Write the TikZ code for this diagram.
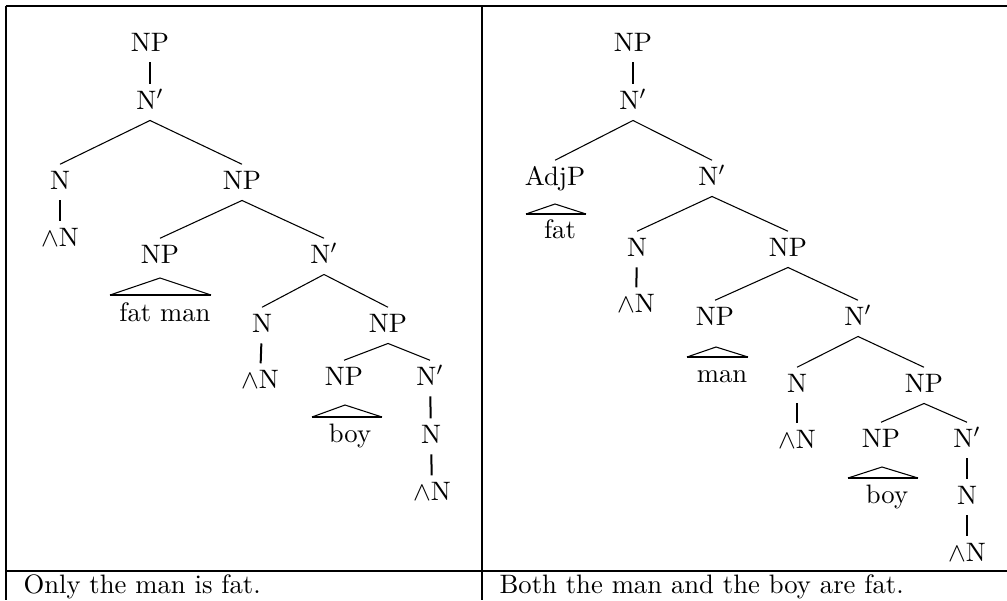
\documentclass[tikz,border=0pt]{standalone}
\usepackage{amsmath, amssymb}
\usepackage{tikz}
\usetikzlibrary{positioning}

\begin{document}
\begin{tikzpicture}[x=0.375pt, y=-0.375pt,
    main/.style = {inner xsep=0pt, inner ysep=2.25pt, text height=6.83pt, text depth=1.85pt, anchor=base},
    word/.style = {inner sep=0pt, anchor=base},
    branch/.style = {line width=0.4pt},
    unary/.style = {line width=0.75pt},
    roofbase/.style = {line width=0.75pt},
    frame/.style = {line width=0.75pt}]
    \useasboundingbox (0,0) rectangle (1007,600);

    % Frame
    \draw[frame] (5.5,5.5) -- (1007,5.5);
    \draw[frame] (5.5,571) -- (1007,571);
    \draw[frame] (5.5,5.5) -- (5.5,600);
    \draw[frame] (482,5.5) -- (482,600);

    % Captions
    \node[word, anchor=base west] (capL) at (23,593) {Only the man is fat.};
    \node[word, anchor=base west] (capR) at (499,593) {Both the man and the boy are fat.};

    % Nodes (left tree)
    \node[main] (lNP) at (150,51) {NP};
    \node[main] (lNb) at (150,109) {N$'$};
    \node[main] (lN1) at (60,189) {N};
    \node[main] (lAN1) at (60,246) {$\wedge$N};
    \node[main] (lNP2) at (242,189) {NP};
    \node[main] (lNP3) at (160,263) {NP};
    \node[main] (lNb2) at (324,263) {N$'$};
    \node[word] (lfatman) at (165,321) {fat man};
    \node[main] (lN2) at (262,332) {N};
    \node[main] (lAN2) at (260,388) {$\wedge$N};
    \node[main] (lNP4) at (388,332) {NP};
    \node[main] (lNP5) at (344,385) {NP};
    \node[main] (lNb3) at (430,385) {N$'$};
    \node[word] (lboy) at (350,442) {boy};
    \node[main] (lN3) at (431,443) {N};
    \node[main] (lAN3) at (432,500) {$\wedge$N};
    % roofs
    \coordinate (lr1T) at (160,278);
    \coordinate (lr1L) at (110,295);
    \coordinate (lr1R) at (211,295);
    \coordinate (lr2T) at (345,405);
    \coordinate (lr2L) at (312,417);
    \coordinate (lr2R) at (382,417);

    % Nodes (right tree)
    \node[main] (rNP) at (633,51) {NP};
    \node[main] (rNb1) at (633,109) {N$'$};
    \node[main] (rAdjP) at (555,185) {AdjP};
    \node[main] (rNb2) at (712,185) {N$'$};
    \node[word] (rfat) at (560,238) {fat};
    \node[main] (rN1) at (637,256) {N};
    \node[main] (rAN1) at (636,312) {$\wedge$N};
    \node[main] (rNP2) at (788,256) {NP};
    \node[main] (rNP3) at (715,325) {NP};
    \node[main] (rNb3) at (858,325) {N$'$};
    \node[word] (rman) at (722,382) {man};
    \node[main] (rN2) at (797,392) {N};
    \node[main] (rAN2) at (797,448) {$\wedge$N};
    \node[main] (rNP4) at (924,392) {NP};
    \node[main] (rNP5) at (881,447) {NP};
    \node[main] (rNb4) at (967,447) {N$'$};
    \node[word] (rboy) at (887,503) {boy};
    \node[main] (rN3) at (967,504) {N};
    \node[main] (rAN3) at (967,561) {$\wedge$N};
    % roofs
    \coordinate (rr1T) at (555,204);
    \coordinate (rr1L) at (526,214);
    \coordinate (rr1R) at (586,214);
    \coordinate (rr2T) at (716,347);
    \coordinate (rr2L) at (687,357);
    \coordinate (rr2R) at (748,357);
    \coordinate (rr3T) at (882,467);
    \coordinate (rr3L) at (848,478);
    \coordinate (rr3R) at (918,478);

    % Lines (left tree)
    \draw[unary] (lNP) -- (lNb);
    \draw[branch] (lNb.south) -- (lN1.north);
    \draw[branch] (lNb.south) -- (lNP2.north);
    \draw[unary] (lN1) -- (lAN1);
    \draw[branch] (lNP2.south) -- (lNP3.north);
    \draw[branch] (lNP2.south) -- (lNb2.north);
    \draw[branch] (lr1L) -- (lr1T) -- (lr1R);
    \draw[roofbase] (lr1L) -- (lr1R);
    \draw[branch] (lNb2.south) -- (lN2.north);
    \draw[branch] (lNb2.south) -- (lNP4.north);
    \draw[unary] (lN2) -- (lAN2);
    \draw[branch] (lNP4.south) -- (lNP5.north);
    \draw[branch] (lNP4.south) -- (lNb3.north);
    \draw[branch] (lr2L) -- (lr2T) -- (lr2R);
    \draw[roofbase] (lr2L) -- (lr2R);
    \draw[unary] (lNb3) -- (lN3);
    \draw[unary] (lN3) -- (lAN3);

    % Lines (right tree)
    \draw[unary] (rNP) -- (rNb1);
    \draw[branch] (rNb1.south) -- (rAdjP.north);
    \draw[branch] (rNb1.south) -- (rNb2.north);
    \draw[branch] (rr1L) -- (rr1T) -- (rr1R);
    \draw[roofbase] (rr1L) -- (rr1R);
    \draw[branch] (rNb2.south) -- (rN1.north);
    \draw[branch] (rNb2.south) -- (rNP2.north);
    \draw[unary] (rN1) -- (rAN1);
    \draw[branch] (rNP2.south) -- (rNP3.north);
    \draw[branch] (rNP2.south) -- (rNb3.north);
    \draw[branch] (rr2L) -- (rr2T) -- (rr2R);
    \draw[roofbase] (rr2L) -- (rr2R);
    \draw[branch] (rNb3.south) -- (rN2.north);
    \draw[branch] (rNb3.south) -- (rNP4.north);
    \draw[unary] (rN2) -- (rAN2);
    \draw[branch] (rNP4.south) -- (rNP5.north);
    \draw[branch] (rNP4.south) -- (rNb4.north);
    \draw[branch] (rr3L) -- (rr3T) -- (rr3R);
    \draw[roofbase] (rr3L) -- (rr3R);
    \draw[unary] (rNb4) -- (rN3);
    \draw[unary] (rN3) -- (rAN3);
\end{tikzpicture}
\end{document}
